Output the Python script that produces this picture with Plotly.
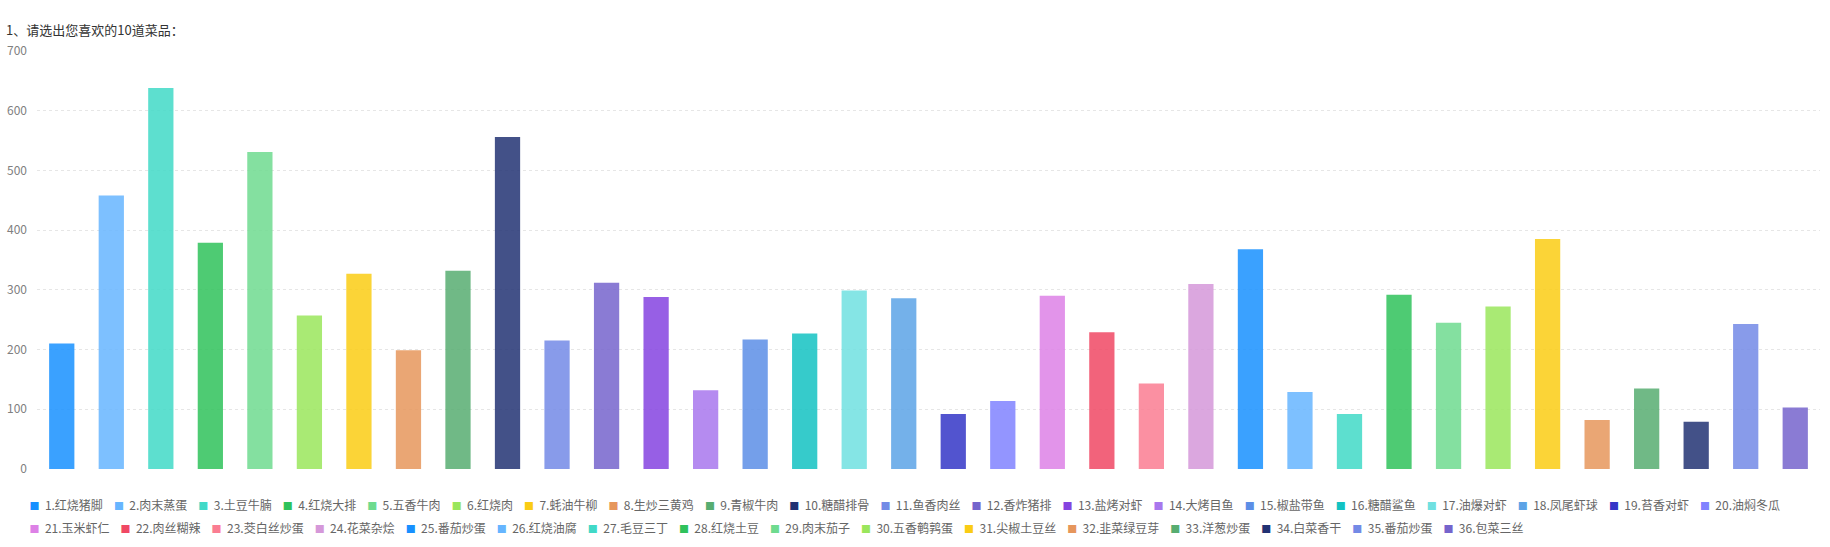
import plotly.graph_objects as go

title_text = "1、请选出您喜欢的10道菜品："

categories = [
    "1.红烧猪脚", "2.肉末蒸蛋", "3.土豆牛腩", "4.红烧大排", "5.五香牛肉", "6.红烧肉",
    "7.蚝油牛柳", "8.生炒三黄鸡", "9.青椒牛肉", "10.糖醋排骨", "11.鱼香肉丝", "12.香炸猪排",
    "13.盐烤对虾", "14.大烤目鱼", "15.椒盐带鱼", "16.糖醋鲨鱼", "17.油爆对虾", "18.凤尾虾球",
    "19.苔香对虾", "20.油焖冬瓜", "21.玉米虾仁", "22.肉丝糊辣", "23.茭白丝炒蛋", "24.花菜杂烩",
    "25.番茄炒蛋", "26.红烧油腐", "27.毛豆三丁", "28.红烧土豆", "29.肉末茄子", "30.五香鹌鹑蛋",
    "31.尖椒土豆丝", "32.韭菜绿豆芽", "33.洋葱炒蛋", "34.白菜香干", "35.番茄炒蛋", "36.包菜三丝",
]

votes = [
    210, 458, 638, 379, 531, 257,
    327, 199, 332, 556, 215, 312,
    288, 132, 217, 227, 299, 286,
    92, 114, 290, 229, 143, 310,
    368, 129, 92, 292, 245, 272,
    385, 82, 135, 79, 243, 103,
]

y_ticks = [0, 100, 200, 300, 400, 500, 600, 700]

palette = [
    "#1890FF", "#66B5FF", "#41D9C7", "#2FC25B", "#6EDB8F", "#9AE65C",
    "#FACC14", "#E6965C", "#57AD71", "#223273", "#738AE6", "#7564CC",
    "#8543E0", "#A877ED", "#5C8EE6", "#13C2C2", "#70E0E0", "#5CA3E6",
    "#3436C7", "#8082FF", "#DD81E6", "#F04864", "#FA7D92", "#D598D9",
]

FONT = "Microsoft YaHei, Noto Sans CJK SC, sans-serif"
FIRST_ROW = 20  # legend entries on the first legend row


def text_width(s, size=12):
    w = 0.0
    for ch in s:
        if ord(ch) > 0x2E80:
            w += size
        elif ch == ".":
            w += 0.27 * size
        else:
            w += 0.553 * size
    return w


fig = go.Figure()
n = len(categories)
for i, (cat, val) in enumerate(zip(categories, votes)):
    col = palette[i % len(palette)]
    fig.add_trace(go.Bar(
        x=[cat], y=[val], name=cat, legendgroup=cat, showlegend=False,
        marker=dict(color=col, opacity=0.85, line=dict(width=0)),
        hovertemplate="%{x}: %{y}<extra></extra>",
    ))

# legend entries: coloured square + label, compact spacing like the original
for i, cat in enumerate(categories):
    col = palette[i % len(palette)]
    last_in_row = (i == FIRST_ROW - 1) or (i == n - 1)
    tw = text_width(cat)
    lw = tw + 18 if last_in_row else max(tw - 18.45, 1)
    fig.add_trace(go.Scatter(
        x=[None], y=[None], mode="lines", line=dict(width=0, color="rgba(0,0,0,0)"),
        name=f'<span style="color:{col};font-size:10px">■</span>\u00a0\u00a0{cat}',
        legendgroup=cat, legend="legend" if i < FIRST_ROW else "legend2",
        legendwidth=lw, hoverinfo="skip",
    ))

W, H = 1830, 547
ml, mr, mt, mb = 37, 10, 51, 78
pw = W - ml - mr
ph = H - mt - mb

leg_common = dict(orientation="h", xanchor="left", yanchor="top",
                  font=dict(family=FONT, size=12, color="#666666"),
                  bgcolor="rgba(0,0,0,0)", borderwidth=0,
                  entrywidthmode="pixels", traceorder="normal")
leg_x = (-10.5 - ml) / pw

fig.update_layout(
    template="none",
    width=W, height=H,
    margin=dict(l=ml, r=mr, t=mt, b=mb, pad=0, autoexpand=False),
    paper_bgcolor="white", plot_bgcolor="white",
    font=dict(family=FONT, size=12, color="#666666"),
    title=dict(text=title_text, x=6 / W, xanchor="left", xref="container",
               y=1 - 30 / H, yanchor="middle", yref="container",
               pad=dict(t=0, b=0, l=0, r=0),
               font=dict(family=FONT, size=13, color="#333333")),
    barmode="overlay", bargap=0.49,
    showlegend=True,
    legend=dict(x=leg_x, y=-(490.5 - (H - mb)) / ph, **leg_common),
    legend2=dict(x=leg_x, y=-(514 - (H - mb)) / ph, **leg_common),
    xaxis=dict(type="category", showticklabels=False, showgrid=False,
               zeroline=False, showline=False, ticks="", automargin=False),
    yaxis=dict(range=[0, 700], tickvals=y_ticks, showgrid=True, gridcolor="#E6E6E6",
               griddash="dot", gridwidth=1, zeroline=False, showline=False, ticks="",
               ticklabelstandoff=9, automargin=False,
               tickfont=dict(family=FONT, size=12, color="#808080")),
)

fig.write_html("out.html", config={"displayModeBar": False},
               post_script="document.body.style.margin='0px';")
